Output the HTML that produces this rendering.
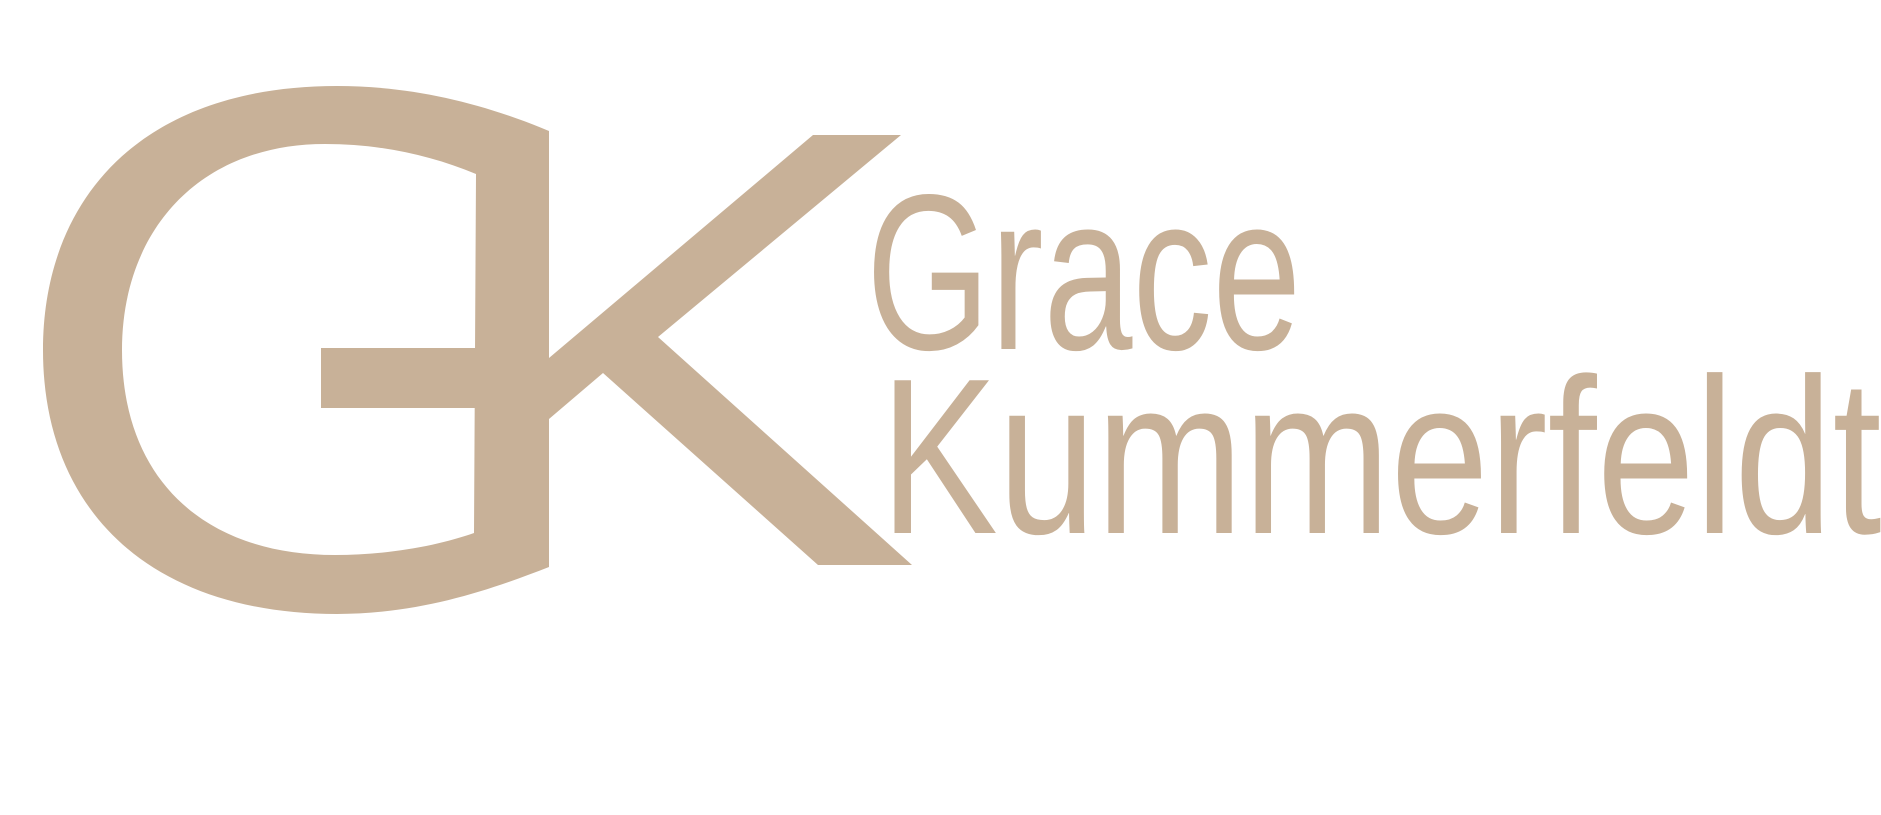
<!DOCTYPE html>
<html><head><meta charset="utf-8"><style>
html,body{margin:0;padding:0;background:#fff;width:1881px;height:815px;overflow:hidden}
svg{display:block}
</style></head><body>
<svg width="1881" height="815" viewBox="0 0 1881 815">
  <g fill="#c8b198">
    <path fill-rule="evenodd"
      d="M549,131 C480,102 410,86 337,86 C140,86 43,200 43,350 C43,510 150,614 337,614 C420,614 490,590 549,567 Z
         M476,174 C430,155 380,144 325,144 C200,144 122,230 122,350 C122,480 205,555 335,555 C390,555 440,545 474,533 Z"/>
    <rect x="321" y="348" width="156" height="60"/>
    <polygon points="549,358 813,135 901,135 658,337 912,565 818,565 603,373 549,419"/>
  </g>
  <g fill="#c8b198" font-family="'Liberation Sans', sans-serif">
    <text x="0" y="0" font-size="222" transform="translate(866,349) scale(0.72,1)">Grace</text>
    <text x="0" y="0" font-size="222" transform="translate(880,533) scale(0.796,1)">Kummerfeldt</text>
  </g>
</svg>
</body></html>
